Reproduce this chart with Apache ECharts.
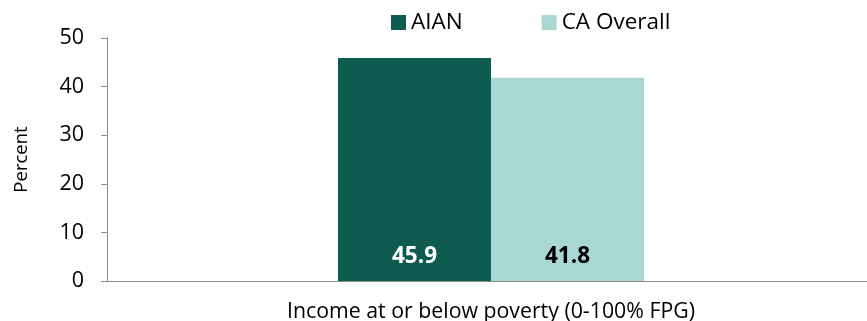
<!DOCTYPE html>
<html>
<head>
<meta charset="utf-8">
<script src="https://cdn.jsdelivr.net/npm/echarts@6/dist/echarts.min.js"></script>
<style>
  html, body { margin: 0; padding: 0; background: #fff; overflow: hidden; }
  #chart { width: 867px; height: 321px; }
</style>
</head>
<body>
<div id="chart"></div>
<script>
// Share of people with income at or below poverty
const categories = ['Income at or below poverty (0-100% FPG)'];
const aianValues = [45.9];
const caOverallValues = [41.8];
const yTicks = { min: 0, max: 50, interval: 10 };

const FONT = '"Open Sans", "DejaVu Sans", sans-serif';
const AXIS_GRAY = '#8c8c8c';

const chart = echarts.init(document.getElementById('chart'), null, { renderer: 'canvas' });

chart.setOption({
  animation: false,
  textStyle: { fontFamily: FONT },
  legend: {
    top: 6,
    left: 386,
    itemWidth: 15,
    itemHeight: 15,
    itemGap: 79,
    icon: 'rect',
    textStyle: { fontSize: 22.5, color: '#000', fontFamily: FONT },
    data: ['AIAN', 'CA Overall']
  },
  grid: {
    left: 107, width: 768, top: 38, bottom: 40,
    containLabel: false,
    outerBoundsMode: 'none'
  },
  xAxis: {
    type: 'category',
    data: categories,
    axisLine: { show: true, lineStyle: { color: AXIS_GRAY, width: 1 } },
    axisTick: { show: false },
    axisLabel: { fontSize: 21.3, color: '#000', margin: 20, fontFamily: FONT }
  },
  yAxis: {
    type: 'value',
    min: yTicks.min,
    max: yTicks.max,
    interval: yTicks.interval,
    name: 'Percent',
    nameLocation: 'middle',
    nameGap: 76,
    nameRotate: 90,
    nameTextStyle: { fontSize: 18.5, color: '#000', fontFamily: FONT },
    axisLine: { show: true, lineStyle: { color: AXIS_GRAY, width: 1 } },
    axisTick: { show: true, length: 6, lineStyle: { color: AXIS_GRAY } },
    axisLabel: { fontSize: 21.5, color: '#000', margin: 23, fontFamily: FONT },
    splitLine: { show: false }
  },
  series: [
    {
      name: 'AIAN',
      type: 'bar',
      data: aianValues,
      barWidth: 153,
      barGap: '0%',
      itemStyle: { color: '#0E5C4F' },
      label: {
        show: true,
        position: 'insideBottom',
        distance: 13,
        fontSize: 22.5,
        fontWeight: 'bold',
        color: '#fff',
        fontFamily: FONT,
        formatter: p => p.value.toFixed(1)
      }
    },
    {
      name: 'CA Overall',
      type: 'bar',
      data: caOverallValues,
      barWidth: 153,
      barGap: '0%',
      itemStyle: { color: '#A9D7D3' },
      label: {
        show: true,
        position: 'insideBottom',
        distance: 13,
        fontSize: 22.5,
        fontWeight: 'bold',
        color: '#000',
        fontFamily: FONT,
        formatter: p => p.value.toFixed(1)
      }
    }
  ]
});
</script>
</body>
</html>
